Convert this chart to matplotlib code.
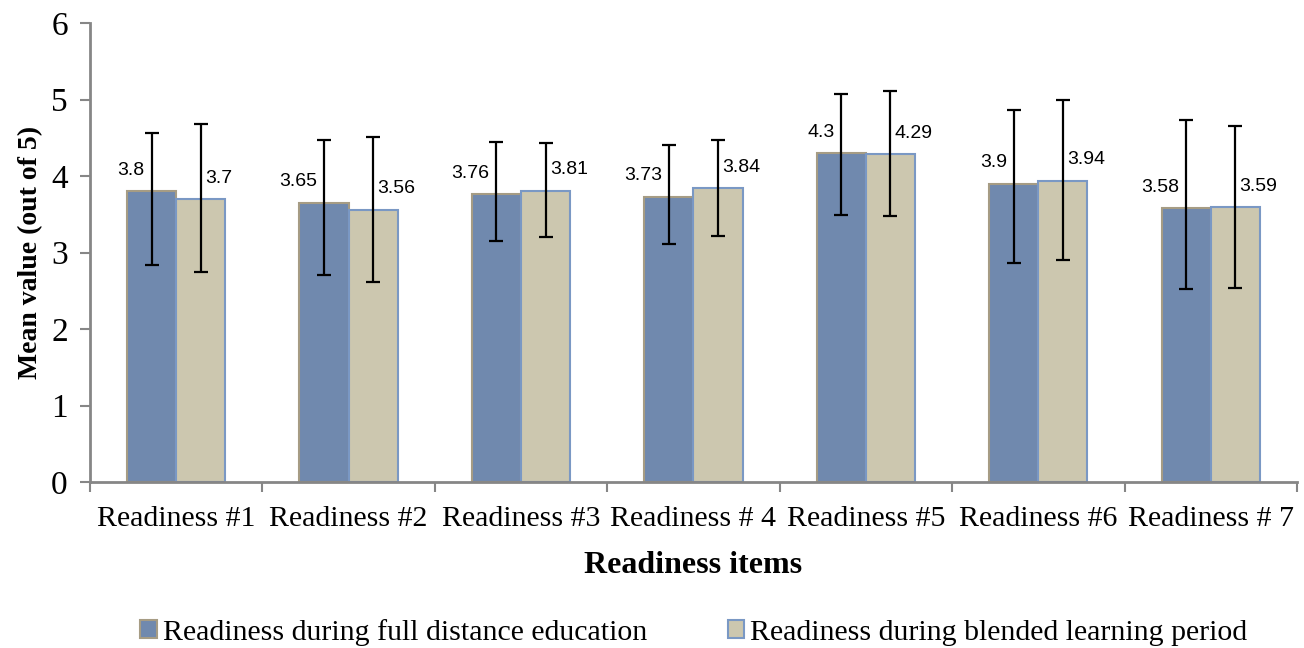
import numpy as np
import matplotlib
matplotlib.use('Agg')
import matplotlib.pyplot as plt

# Data
categories = ['Readiness #1', 'Readiness #2', 'Readiness #3', 'Readiness # 4',
              'Readiness #5', 'Readiness #6', 'Readiness # 7']
distance_mean = [3.8, 3.65, 3.76, 3.73, 4.3, 3.9, 3.58]
blended_mean = [3.7, 3.56, 3.81, 3.84, 4.29, 3.94, 3.59]
# error bar ends (top / bottom) as drawn
distance_top = [4.56, 4.47, 4.44, 4.41, 5.07, 4.86, 4.73]
distance_bottom = [2.84, 2.71, 3.15, 3.11, 3.49, 2.86, 2.53]
blended_top = [4.68, 4.51, 4.43, 4.47, 5.11, 4.99, 4.65]
blended_bottom = [2.74, 2.61, 3.20, 3.22, 3.48, 2.90, 2.54]

dark_fill = '#7089AE'
dark_edge = '#A69C84'
light_fill = '#CCC7AF'
light_edge = '#7A98C4'
axis_gray = '#868686'
serif = 'Liberation Serif'

fig = plt.figure(figsize=(13.04, 6.48), dpi=100)
ax = fig.add_axes([0.069, 0.256, 0.9256, 0.7085])

x = np.arange(len(categories))
w = 0.285

d_mean = np.array(distance_mean)
b_mean = np.array(blended_mean)
d_err = [d_mean - np.array(distance_bottom), np.array(distance_top) - d_mean]
b_err = [b_mean - np.array(blended_bottom), np.array(blended_top) - b_mean]

ax.bar(x - w / 2, d_mean, w, color=dark_fill, edgecolor=dark_edge, linewidth=1.5,
       label='Readiness during full distance education', zorder=2)
ax.bar(x + w / 2, b_mean, w, color=light_fill, edgecolor=light_edge, linewidth=1.5,
       label='Readiness during blended learning period', zorder=2)

ax.errorbar(x - w / 2, d_mean, yerr=d_err, fmt='none', ecolor='black',
            elinewidth=1.6, capsize=5, capthick=1.6, zorder=3)
ax.errorbar(x + w / 2, b_mean, yerr=b_err, fmt='none', ecolor='black',
            elinewidth=1.6, capsize=5, capthick=1.6, zorder=3)

# value labels
for xi, v in zip(x, d_mean):
    ax.annotate(f'{v:g}', (xi - w / 2, v), xytext=(-5, 15), textcoords='offset points',
                ha='right', va='center', fontsize=14, family='Liberation Sans')
for xi, v in zip(x, b_mean):
    ax.annotate(f'{v:g}', (xi + w / 2, v), xytext=(3, 15), textcoords='offset points',
                ha='left', va='center', fontsize=14, family='Liberation Sans')

ax.set_xlim(-0.5, len(categories) - 0.5)
ax.set_ylim(0, 6)
ax.set_yticks(range(0, 7))
ax.set_xticks(x)
ax.set_xticklabels(categories, family=serif, fontsize=21.5)
ax.set_xticks(np.arange(-0.5, len(categories), 1), minor=True)
ax.tick_params(axis='x', which='major', length=0, pad=17)
ax.tick_params(axis='x', which='minor', length=7, width=1.5, color=axis_gray)
ax.tick_params(axis='y', length=7, width=1.5, color=axis_gray, labelsize=24, pad=9)
for lab in ax.get_yticklabels():
    lab.set_family(serif)

for side in ['top', 'right']:
    ax.spines[side].set_visible(False)
for side in ['left', 'bottom']:
    ax.spines[side].set_color(axis_gray)
    ax.spines[side].set_linewidth(2)

ax.set_ylabel('Mean value (out of 5)', family=serif, fontsize=20, fontweight='bold', labelpad=6)
ax.set_xlabel('Readiness items', family=serif, fontsize=23, fontweight='bold', labelpad=14)

fig.legend(loc='center', bbox_to_anchor=(0.532, 0.024), ncol=2, frameon=False,
           prop={'family': serif, 'size': 21.5}, handlelength=0.55, handleheight=0.55,
           handletextpad=0.2, columnspacing=2.7)

fig.savefig('out.png', dpi=100)
